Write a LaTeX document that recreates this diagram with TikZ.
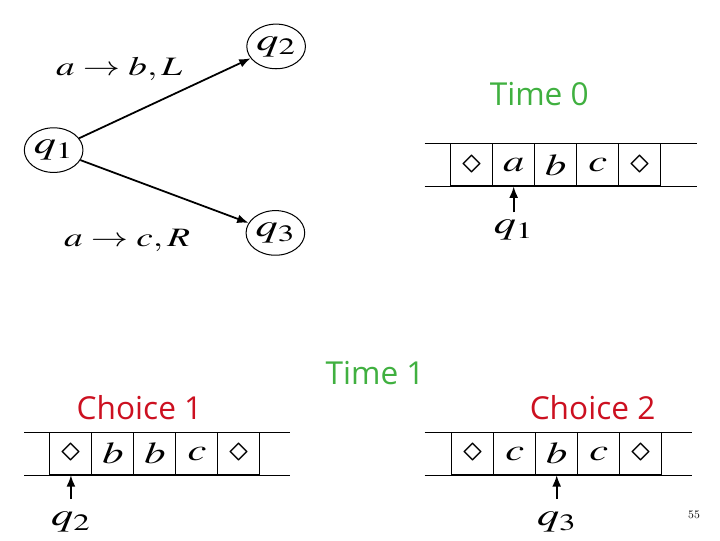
\documentclass[tikz,border=0pt]{standalone}
\usepackage{mathptmx}
\usepackage{fontspec}
\usetikzlibrary{shapes.geometric, positioning, arrows.meta}
\newfontfamily\notefont{Open Sans}
\newcommand{\wide}[1]{\scalebox{1.4}[1]{#1}}
\newcommand{\blank}{{\fontsize{30}{30}\selectfont$\diamond$}}
\definecolor{timegreen}{RGB}{64,176,64}
\definecolor{choicered}{RGB}{204,16,32}

\begin{document}
\begin{tikzpicture}[line width=0.8pt, >={Latex[length=9pt,width=7pt]},
  state/.style={draw, ellipse, minimum width=1.63cm, minimum height=1.24cm, inner sep=0pt, font=\fontsize{25}{25}\selectfont},
  trans/.style={font=\fontsize{21}{21}\selectfont},
  cell/.style={draw, minimum width=1.167cm, minimum height=1.167cm, inner sep=0pt, font=\fontsize{24}{24}\selectfont},
  head/.style={inner sep=1pt, font=\fontsize{25}{25}\selectfont},
  note/.style={font=\notefont\fontsize{25}{25}\selectfont}]

\useasboundingbox (0,0) rectangle (20,15);

% States and moves
\node[state] (q1) at (1.49,10.83) {\wide{$q_1$}};
\node[state] (q2) at (7.67,13.71) {\wide{$q_2$}};
\node[state] (q3) at (7.65,8.53) {\wide{$q_3$}};
\draw[->, line width=1.4pt] (q1) -- (q2);
\draw[->, line width=1.4pt] (q1) -- (q3);
\node[trans] (l12) at (3.31,13.08) {\wide{$a \rightarrow b, L$}};
\node[trans] (l13) at (3.53,8.33) {\wide{$a \rightarrow c, R$}};

% Tape at time 0
\foreach \s [count=\i] in {\blank, \wide{$a$}, \wide{$b$}, \wide{$c$}, \blank}
  \node[cell] (t0c\i) at ({11.935+1.167*\i}, 10.42) {\s};
\draw ([xshift=-0.71cm]t0c1.north west) -- ([xshift=1cm]t0c5.north east);
\draw ([xshift=-0.71cm]t0c1.south west) -- ([xshift=1cm]t0c5.south east);
\coordinate[below=0.72cm of t0c2] (a0);
\draw[->, line width=1.4pt] (a0) -- (t0c2);
\node[head, below=0.15cm of a0] (h0) {\wide{$q_1$}};

% Tape for choice 1
\foreach \s [count=\i] in {\blank, \wide{$b$}, \wide{$b$}, \wide{$c$}, \blank}
  \node[cell] (t1c\i) at ({0.803+1.167*\i}, 2.40) {\s};
\draw ([xshift=-0.70cm]t1c1.north west) -- ([xshift=0.81cm]t1c5.north east);
\draw ([xshift=-0.70cm]t1c1.south west) -- ([xshift=0.81cm]t1c5.south east);
\coordinate[below=0.67cm of t1c1] (a1);
\draw[->, line width=1.4pt] (a1) -- (t1c1);
\node[head, below=0.3cm of a1] (h1) {\wide{$q_2$}};

% Tape for choice 2
\foreach \s [count=\i] in {\blank, \wide{$c$}, \wide{$b$}, \wide{$c$}, \blank}
  \node[cell] (t2c\i) at ({11.963+1.167*\i}, 2.40) {\s};
\draw ([xshift=-0.74cm]t2c1.north west) -- ([xshift=0.83cm]t2c5.north east);
\draw ([xshift=-0.74cm]t2c1.south west) -- ([xshift=0.83cm]t2c5.south east);
\coordinate[below=0.67cm of t2c3] (a2);
\draw[->, line width=1.4pt] (a2) -- (t2c3);
\node[head, below=0.3cm of a2] (h2) {\wide{$q_3$}};

% Labels
\node[note, text=timegreen] (time0) at (14.98,12.38) {Time 0};
\node[note, text=timegreen] (time1) at (10.42,4.64) {Time 1};
\node[note, text=choicered] (choice1) at (3.875,3.69) {Choice 1};
\node[note, text=choicered] (choice2) at (16.46,3.69) {Choice 2};
\node[font=\fontsize{9}{9}\selectfont] (page) at (19.28,0.69) {55};

\end{tikzpicture}
\end{document}
